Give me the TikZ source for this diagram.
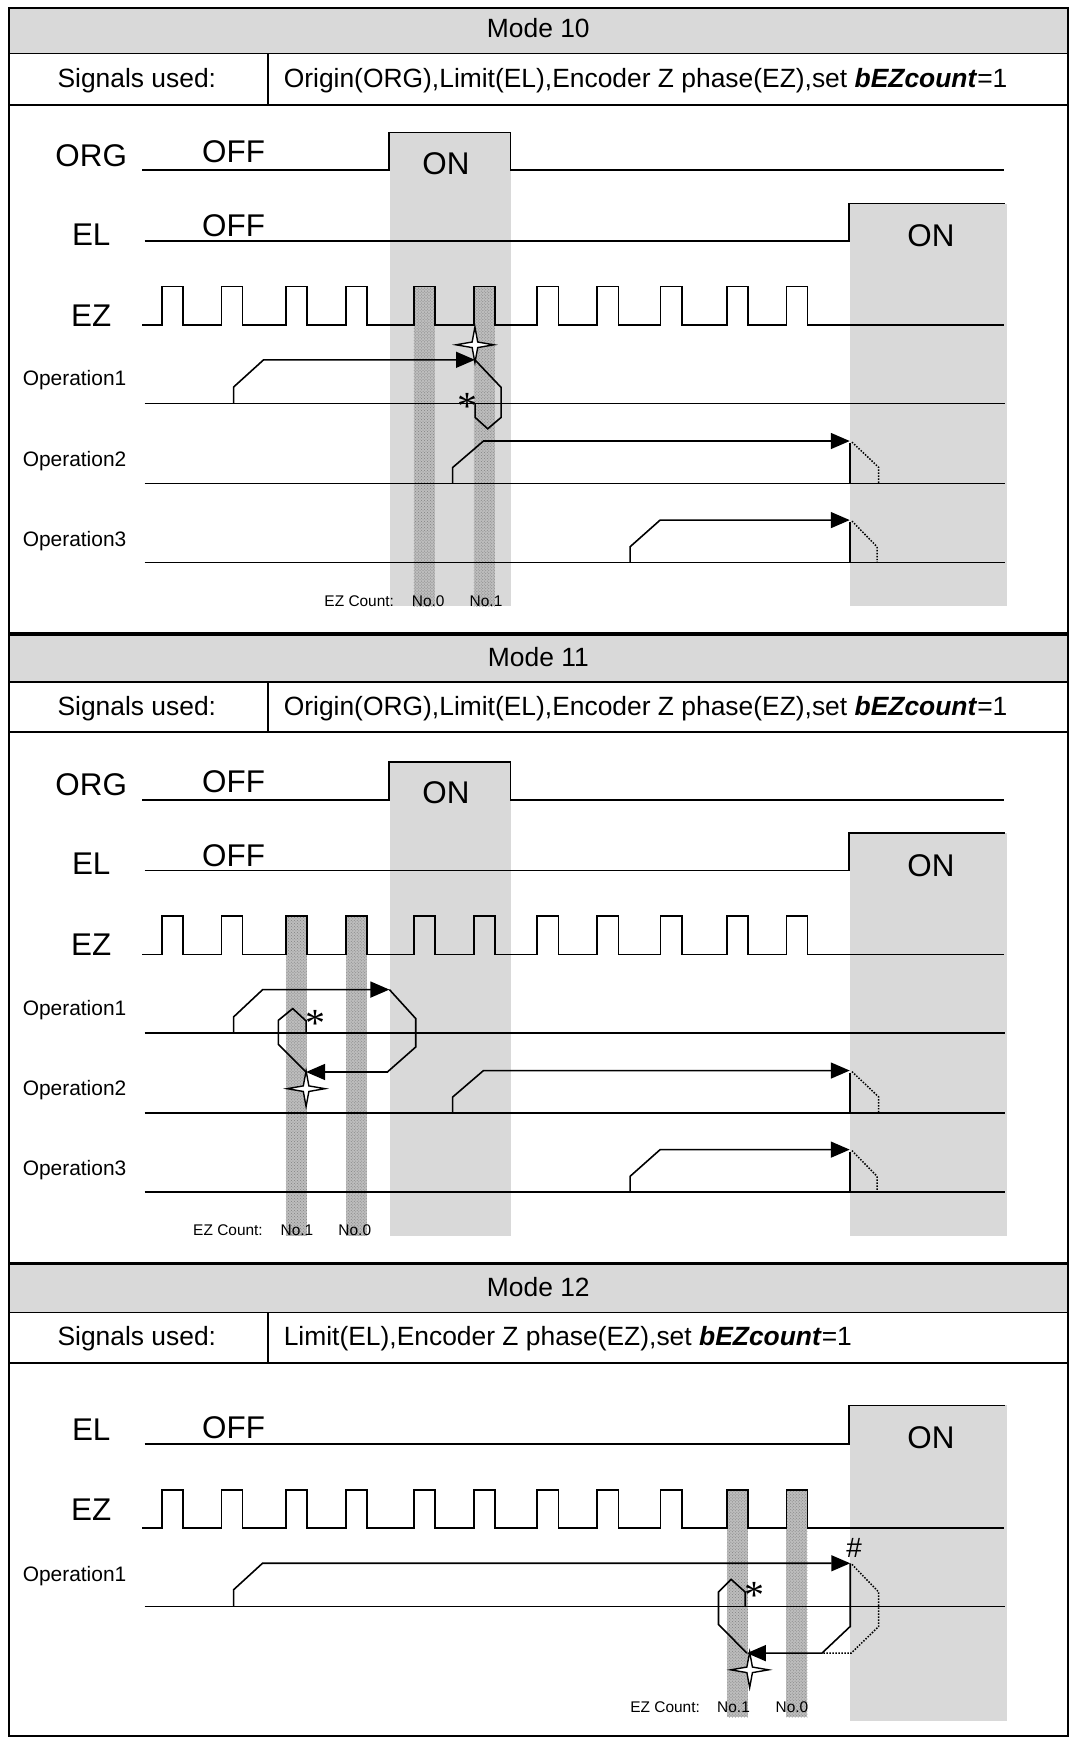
\documentclass[tikz,border=0pt]{standalone}
\usepackage{fontspec}
\setmainfont{Liberation Sans}
\newfontfamily\astfont{Liberation Serif}
\usetikzlibrary{arrows.meta, patterns}

\newcommand\ezrise{145.5,199,257,311,372,426,483,537,594,653.5,707}

\begin{document}
\begin{tikzpicture}[
    x=1.112bp, y=-1.112bp,
    frame/.style={line width=1.6pt},
    band/.style={fill=black!15},
    onzone/.style={fill=black!15},
    ezstrip/.style={fill=black!26, postaction={pattern=crosshatch dots, pattern color=black!50}},
    sig/.style={line width=1.6pt},
    op/.style={line width=1.6pt},
    arrow/.style={op, -{Triangle[length=19pt, width=16pt]}},
    ghost/.style={line width=1.5pt, dash pattern=on 1.5pt off 1.5pt},
    title/.style={font=\fontsize{26.5}{26.5}\selectfont, anchor=base},
    sigtext/.style={font=\fontsize{31.5}{31.5}\selectfont, anchor=base},
    optext/.style={font=\fontsize{21}{21}\selectfont, anchor=base},
    count/.style={font=\fontsize{15.5}{15.5}\selectfont, anchor=base},
    astx/.style={font=\astfont\fontsize{40}{40}\selectfont, anchor=base, inner sep=0pt},
    hash/.style={font=\fontsize{28}{28}\selectfont, inner sep=0pt},
    sparkle/.pic={\draw[line width=1.4pt, fill=white] (0,-16) -- (2.5,-2.5) -- (17,0) -- (2.5,2.5) -- (0,16) -- (-2.5,2.5) -- (-17,0) -- (-2.5,-2.5) -- cycle;}
]
\useasboundingbox (0,0) rectangle (965,1568);

% table frame of the three modes
\foreach \T/\B/\S/\m in {7/48/94/10, 570/613/658/11, 1136/1180/1225/12} {
    \fill[band] (8,\T) rectangle (960,\B);
    \draw[frame] (8,\B) -- (960,\B);
    \draw[frame, line width=2pt] (8,\S) -- (960,\S);
    \draw[frame] (241,\B) -- (241,\S);
    \node[title] (mode\m) at (484,\B-14) {Mode \m};
    \node[title] (used\m) at (123,\S-15) {Signals used:};
}
\node[title, anchor=base west] (sig10) at (252,79) {Origin(ORG),Limit(EL),Encoder Z phase(EZ),set \textbf{\textit{bEZcount}}=1};
\node[title, anchor=base west] (sig11) at (252,643) {Origin(ORG),Limit(EL),Encoder Z phase(EZ),set \textbf{\textit{bEZcount}}=1};
\node[title, anchor=base west] (sig12) at (252,1210) {Limit(EL),Encoder Z phase(EZ),set \textbf{\textit{bEZcount}}=1};

% modes 10 and 11 share the signal part
\foreach \dy/\m/\sa/\sb in {0/10/372/426, 566/11/257/311} {
\begin{scope}[shift={(0,\dy)}]
    \fill[onzone] (351,119) rectangle (459,545);
    \fill[onzone] (764,183) rectangle (905,545);
    \path[ezstrip] (\sa,257.5) rectangle (\sa+19,545);
    \path[ezstrip] (\sb,257.5) rectangle (\sb+19,545);

    \draw[sig] (128,153) -- (350,153) -- (350,119) -- (459,119) -- (459,153) -- (903,153);
    \draw[sig] (130,216.5) -- (763.5,216.5) -- (763.5,183) -- (904,183);
    \draw[sig] (128,292.3) foreach \r in \ezrise {-- (\r,292.3) -- (\r,257.5) -- (\r+19,257.5) -- (\r+19,292.3)} -- (903,292.3);
    \foreach \y in {362.7,434.6,505.7}
        \draw[sig] (130,\y) -- (904,\y);

    \node[sigtext] (org\m) at (82,149.5) {ORG};
    \node[sigtext] (el\m) at (82,220.3) {EL};
    \node[sigtext] (ez\m) at (82,293.5) {EZ};
    \node[sigtext] (orgoff\m) at (210,146.5) {OFF};
    \node[sigtext] (eloff\m) at (210,212.8) {OFF};
    \node[sigtext] (orgon\m) at (401,156.5) {ON};
    \node[sigtext] (elon\m) at (837,221.8) {ON};
    \node[optext] (opa\m) at (67,347) {Operation1};
    \node[optext] (opb\m) at (67,419) {Operation2};
    \node[optext] (opc\m) at (67,491) {Operation3};

    % Operation2 / Operation3 run into EL
    \draw[arrow] (407,434.6) -- (407,420.3) -- (434.7,396.5) -- (764,396.5);
    \draw[op] (764,398.5) -- (764,434.6);
    \draw[ghost] (766,397.5) -- (790,420.2) -- (790,434.6);
    \draw[arrow] (566.5,505.7) -- (566.5,491.6) -- (593.5,467.6) -- (764,467.6);
    \draw[op] (764,469.5) -- (764,505.7);
    \draw[ghost] (766,468.5) -- (788.5,491.6) -- (788.5,505.7);
\end{scope}
}

% mode 10: Operation1
\draw[arrow] (210,362.7) -- (210,348) -- (237,323.5) -- (427,323.5);
\draw[op] (427,323.5) -- (450.5,348.3) -- (450.5,375.3) -- (438.5,385.5) -- (427.2,375.3) -- (427.2,362.7);
\pic at (427,310) {sparkle};
\node[astx] (ast10) at (420.3,376.8) {*};
\node[count] (cnt10) at (323,545) {EZ Count:};
\node[count] (noa10) at (385,545) {No.0};
\node[count] (nob10) at (437,545) {No.1};

% mode 11: Operation1
\draw[arrow] (210,928.7) -- (210,914.3) -- (236.2,889.7) -- (350.1,889.7);
\draw[arrow] (350.1,889.7) -- (373.8,915.8) -- (373.8,941.3) -- (348.3,963.8) -- (275.2,963.8);
\draw[op] (275.2,963.8) -- (250.3,938.9) -- (250.3,917.3) -- (263.2,906.8) -- (275.2,917.9) -- (275.2,928.7);
\pic at (275.2,978.8) {sparkle};
\node[astx] (ast11) at (284,932.3) {*};
\node[count] (cnt11) at (205,1111) {EZ Count:};
\node[count] (noa11) at (267,1111) {No.1};
\node[count] (nob11) at (319,1111) {No.0};

% mode 12
\fill[onzone] (764,1263.5) rectangle (905,1547);
\path[ezstrip] (653.5,1339.4) rectangle (672.5,1544);
\path[ezstrip] (707,1339.4) rectangle (726,1544);
\draw[sig] (130,1298) -- (763.5,1298) -- (763.5,1263.5) -- (904,1263.5);
\draw[sig] (128,1373.9) foreach \r in \ezrise {-- (\r,1373.9) -- (\r,1339.4) -- (\r+19,1339.4) -- (\r+19,1373.9)} -- (903,1373.9);
\draw[sig] (130,1444.3) -- (904,1444.3);
\node[sigtext] (el12) at (82,1295) {EL};
\node[sigtext] (ez12) at (82,1367) {EZ};
\node[sigtext] (eloff12) at (210,1293.5) {OFF};
\node[sigtext] (elon12) at (837,1302) {ON};
\node[optext] (opa12) at (67,1422) {Operation1};

\draw[arrow] (210,1444.3) -- (210,1429.3) -- (236,1405.5) -- (764.4,1405.5);
\draw[arrow] (764.4,1405.5) -- (764.4,1462.3) -- (739,1486.3) -- (671.5,1486.3);
\draw[op] (671.5,1486.3) -- (646,1460.5) -- (646,1431.4) -- (657.4,1420) -- (670,1431.4) -- (670,1444.3);
\draw[ghost] (766,1406.5) -- (790,1431.4) -- (790,1462.3) -- (765.3,1486.3) -- (739,1486.3);
\pic at (674,1501.3) {sparkle};
\node[astx] (ast12) at (678.4,1446.4) {*};
\node[hash] (hash12) at (768,1392) {\#};
\node[count] (cnt12) at (598,1540) {EZ Count:};
\node[count] (noa12) at (659.5,1540) {No.1};
\node[count] (nob12) at (712,1540) {No.0};

% section rules and outer border
\draw[line width=3.5pt] (8,570) -- (960,570);
\draw[line width=3.5pt] (8,1136) -- (960,1136);
\draw[line width=2.5pt] (8,7) rectangle (960,1561);
\end{tikzpicture}
\end{document}
